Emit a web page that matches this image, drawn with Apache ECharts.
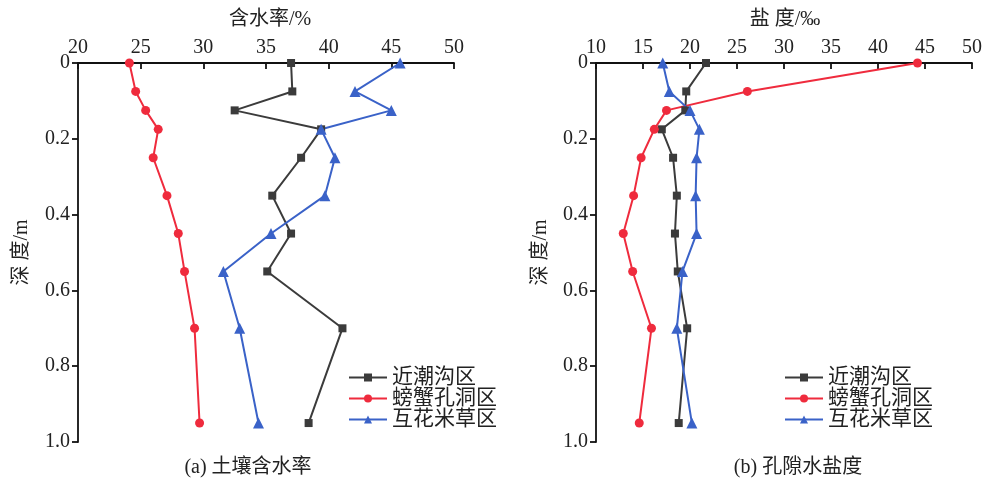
<!DOCTYPE html>
<html><head><meta charset="utf-8">
<script src="https://cdn.jsdelivr.net/npm/echarts@6/dist/echarts.min.js"></script>
<style>html,body{margin:0;padding:0;background:#fff}#c{width:985px;height:479px}</style>
</head><body><div id="c"></div>
<script>
const depths = [0, 0.075, 0.125, 0.175, 0.25, 0.35, 0.45, 0.55, 0.70, 0.95];
const seriesNames = ['近潮沟区', '螃蟹孔洞区', '互花米草区'];
// (a) soil moisture %
const moistureNear = [37.0, 37.1, 32.5, 39.4, 37.8, 35.5, 37.0, 35.1, 41.1, 38.4];
const moistureCrab = [24.1, 24.6, 25.4, 26.4, 26.0, 27.1, 28.0, 28.5, 29.3, 29.7];
const moistureSpartina = [45.7, 42.1, 45.0, 39.4, 40.5, 39.7, 35.4, 31.6, 32.9, 34.4];
// (b) pore water salinity ‰
const salinityNear = [21.7, 19.6, 19.5, 17.0, 18.2, 18.6, 18.4, 18.7, 19.7, 18.8];
const salinityCrab = [44.2, 26.1, 17.5, 16.2, 14.8, 14.0, 12.9, 13.9, 15.9, 14.6];
const salinitySpartina = [17.1, 17.8, 20.0, 21.0, 20.7, 20.6, 20.7, 19.2, 18.6, 20.2];

const FONT = '"Liberation Serif", "Noto Sans CJK SC", serif';
const colors = ['#3b3b3b', '#ef2b3d', '#3a62c8'];
const symbols = ['rect', 'circle', 'triangle'];
const symSizes = [8, 9, 11];

function pairs(vals){ return vals.map((v,i)=>[v, depths[i]]); }

function xAxis(idx, min, max){
  return {
    gridIndex: idx, type:'value', position:'top', min:min, max:max, interval:5,
    axisLine:{show:true, onZero:false, lineStyle:{color:'#111', width:1.8}},
    axisTick:{show:true, inside:true, length:6, lineStyle:{color:'#111', width:1.8}},
    axisLabel:{color:'#222', fontSize:20, fontFamily:FONT, margin:5},
    splitLine:{show:false}
  };
}
function yAxis(idx){
  return {
    gridIndex: idx, type:'value', inverse:true, min:0, max:1, interval:0.2,
    name:'深 度/m', nameLocation:'middle', nameGap: idx===0 ? 46 : 45, nameRotate:90,
    nameTextStyle:{color:'#222', fontSize:20, fontFamily:FONT},
    axisLine:{show:true, onZero:false, lineStyle:{color:'#111', width:1.8}},
    axisTick:{show:true, inside:false, length:6, lineStyle:{color:'#111', width:1.8}},
    axisLabel:{color:'#222', fontSize:20, fontFamily:FONT, margin:8,
      formatter: v => v === 0 ? '0' : v.toFixed(1)},
    splitLine:{show:false}
  };
}
function mk(name, vals, k, gi){
  return {
    name:name, type:'line', xAxisIndex:gi, yAxisIndex:gi, data:pairs(vals),
    symbol:symbols[k], symbolSize:symSizes[k], showSymbol:true,
    lineStyle:{color:colors[k], width:2}, itemStyle:{color:colors[k]},
    emphasis:{disabled:true}, animation:false
  };
}
const series = [];
[moistureNear, moistureCrab, moistureSpartina].forEach((v,k)=>series.push(mk(seriesNames[k], v, k, 0)));
[salinityNear, salinityCrab, salinitySpartina].forEach((v,k)=>series.push(mk(seriesNames[k], v, k, 1)));

const legendCommon = {
  orient:'vertical', itemWidth:38, itemHeight:10, itemGap:0,
  textStyle:{color:'#222', fontSize:21, fontFamily:FONT, lineHeight:20}, data:seriesNames, selectedMode:false
};

const chart = echarts.init(document.getElementById('c'));
chart.setOption({
  backgroundColor:'#fff',
  animation:false,
  grid:[
    {left:78, top:63, width:376, height:379},
    {left:596, top:63, width:379, height:379}
  ],
  xAxis:[xAxis(0,20,50), xAxis(1,10,50)],
  yAxis:[yAxis(0), yAxis(1)],
  title:[
    {text:'含水率/%', left:265, top:5, textAlign:'center', textStyle:{color:'#222', fontSize:20, fontWeight:'normal', fontFamily:FONT}},
    {text:'盐 度/‰', left:780, top:5, textAlign:'center', textStyle:{color:'#222', fontSize:20, fontWeight:'normal', fontFamily:FONT}},
    {text:'(a) 土壤含水率', left:243, top:453, textAlign:'center', textStyle:{color:'#222', fontSize:20, fontWeight:'normal', fontFamily:FONT}},
    {text:'(b) 孔隙水盐度', left:793, top:453, textAlign:'center', textStyle:{color:'#222', fontSize:20, fontWeight:'normal', fontFamily:FONT}}
  ],
  legend:[
    Object.assign({left:343, top:362}, legendCommon),
    Object.assign({left:779, top:362}, legendCommon)
  ],
  series:series
});
</script></body></html>
